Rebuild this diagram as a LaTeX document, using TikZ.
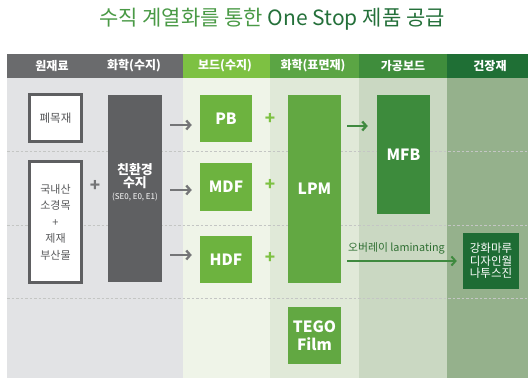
\documentclass[tikz,border=0pt]{standalone}
\usepackage{fontspec}
\setmainfont{Noto Sans CJK KR}
\usetikzlibrary{arrows.meta,calc}
\definecolor{hdrgray}{HTML}{6A6B6D}
\definecolor{hdrgA}{HTML}{7DC142}
\definecolor{hdrgB}{HTML}{5BA544}
\definecolor{hdrgC}{HTML}{3F8D3C}
\definecolor{hdrgD}{HTML}{1F6F35}
\definecolor{bodygray}{HTML}{E2E3E5}
\definecolor{bodygA}{HTML}{EFF4E8}
\definecolor{bodygB}{HTML}{E0E9D8}
\definecolor{bodygC}{HTML}{CAD8C2}
\definecolor{bodygD}{HTML}{95B18C}
\definecolor{boxborder}{HTML}{5E5F61}
\definecolor{resinfill}{HTML}{5F6062}
\definecolor{boardfill}{HTML}{6DB33F}
\definecolor{lpmfill}{HTML}{62A842}
\definecolor{mfbfill}{HTML}{3D8B3C}
\definecolor{finalfill}{HTML}{1E6C34}
\definecolor{textgray}{HTML}{58595B}
\definecolor{arrgray}{HTML}{747577}
\definecolor{arrgreen}{HTML}{3F8A3F}
\definecolor{plusgreen}{HTML}{7DC142}
\definecolor{titleA}{HTML}{4A9A46}
\definecolor{titleB}{HTML}{24703A}
\definecolor{labgreen}{HTML}{2F6F32}
\definecolor{dashcol}{HTML}{C4C6C4}
\begin{document}
\begin{tikzpicture}[x=1pt,y=-1pt,
  hdr/.style={text=white, inner sep=0, font=\fontsize{12}{13}\selectfont\bfseries},
  wbox/.style={draw=boxborder, line width=3pt, fill=white, text=textgray, align=center, inner sep=0},
  fbox/.style={inner sep=0, text=white, align=center, font=\fontsize{15.5}{18}\selectfont\bfseries},
  garrow/.style={draw=arrgray, line width=2.3pt, -{Straight Barb[length=4pt,width=9pt]}},
  grarrow/.style={draw=arrgreen, line width=2.3pt, -{Straight Barb[length=4pt,width=9pt]}},
  plusg/.style={text=arrgray, inner sep=0, font=\fontsize{17}{17}\selectfont\bfseries},
  plusgr/.style={text=plusgreen, inner sep=0, font=\fontsize{17}{17}\selectfont\bfseries},
  dashrow/.style={draw=dashcol, line width=0.8pt, dash pattern=on 2.5pt off 2pt}
]
\useasboundingbox (0,0) rectangle (531,378);
\fill[white] (0,0) rectangle (531,378);
% title
\node (title) at (272,19) {\fontsize{21}{25}\selectfont\textcolor{titleA}{수직 계열화를 통한} \textcolor{titleB}{One Stop 제품 공급}};
% body bands
\fill[bodygray] (7,78) rectangle (183,378);
\fill[bodygA] (183,78) rectangle (270,378);
\fill[bodygB] (270,78) rectangle (359,378);
\fill[bodygC] (359,78) rectangle (447,378);
\fill[bodygD] (447,78) rectangle (528,378);
% header bands
\fill[hdrgray] (7,54) rectangle (183,78);
\fill[hdrgA] (183,54) rectangle (270,78);
\fill[hdrgB] (270,54) rectangle (359,78);
\fill[hdrgC] (359,54) rectangle (447,78);
\fill[hdrgD] (447,54) rectangle (528,78);
\node[hdr] (h1) at (52,66) {원재료};
\node[hdr] (h2) at (134,66) {화학(수지)};
\node[hdr] (h3) at (225,66) {보드(수지)};
\node[hdr] (h4) at (313,66) {화학(표면재)};
\node[hdr] (h5) at (403,66) {가공보드};
\node[hdr] (h6) at (490,66) {건장재};
% dashed rows
\draw[dashrow] (7,151) -- (528,151);
\draw[dashrow] (7,225) -- (528,225);
\draw[dashrow] (7,298) -- (528,298);
% boxes
\node[wbox, minimum width=52pt, minimum height=47pt, font=\fontsize{11.5}{15}\selectfont] (waste) at (55.5,118) {폐목재};
\node[wbox, minimum width=52pt, minimum height=121pt, font=\fontsize{11}{16.5}\selectfont] (domestic) at (55.5,222) {국내산\\소경목\\+\\제재\\부산물};
\node[fill=resinfill, inner sep=0, minimum width=54pt, minimum height=187pt, text depth=14pt, text=white, align=center] (resin) at (135,188.5)
  {\fontsize{13}{13.5}\selectfont\bfseries 친환경\\\fontsize{13}{14.5}\selectfont\bfseries 수지\\\fontsize{8}{11}\selectfont\mdseries (SE0, E0, E1)};
\node[fbox, fill=boardfill, minimum width=52pt, minimum height=47pt] (pb) at (226,118.5) {PB};
\node[fbox, fill=boardfill, minimum width=52pt, minimum height=48pt] (mdf) at (226,187) {MDF};
\node[fbox, fill=boardfill, minimum width=52pt, minimum height=47pt] (hdf) at (226,259.5) {HDF};
\node[fbox, fill=lpmfill, minimum width=53pt, minimum height=188pt] (lpm) at (314.5,189) {LPM};
\node[fbox, fill=lpmfill, minimum width=53pt, minimum height=57pt] (tego) at (314.5,335.5) {TEGO\\Film};
\node[fbox, fill=mfbfill, minimum width=53pt, minimum height=119pt] (mfb) at (403.5,154.5) {MFB};
\node[fbox, fill=finalfill, minimum width=56pt, minimum height=56pt, font=\fontsize{11.5}{12.5}\selectfont] (final) at (491,261) {강화마루\\디자인월\\나투스진};
% plus signs
\node[plusg] (p0) at (95,186) {+};
\node[plusgr] (p1) at (270,118.5) {+};
\node[plusgr] (p2) at (270,185) {+};
\node[plusgr] (p3) at (270,258) {+};
% arrows
\coordinate (ya) at (0,125);
\coordinate (yb) at (0,190);
\coordinate (yc) at (0,255);
\coordinate (yd) at (0,126);
\draw[garrow, shorten <=8pt, shorten >=8pt] (resin.east |- ya) -- (pb.west |- ya);
\draw[garrow, shorten <=8pt, shorten >=8pt] (resin.east |- yb) -- (mdf.west |- yb);
\draw[garrow, shorten <=8pt, shorten >=8pt] (resin.east |- yc) -- (hdf.west |- yc);
\draw[grarrow, shorten <=6pt, shorten >=9pt] (lpm.east |- yd) -- (mfb.west |- yd);
\draw[grarrow, line width=2pt, shorten <=6pt, shorten >=6pt] (lpm.east |- final.west) -- (final.west);
\node[anchor=west, inner sep=0, text=labgreen, font=\fontsize{10.8}{12}\selectfont] (lamlabel) at (348,248) {오버레이 laminating};
\end{tikzpicture}
\end{document}
